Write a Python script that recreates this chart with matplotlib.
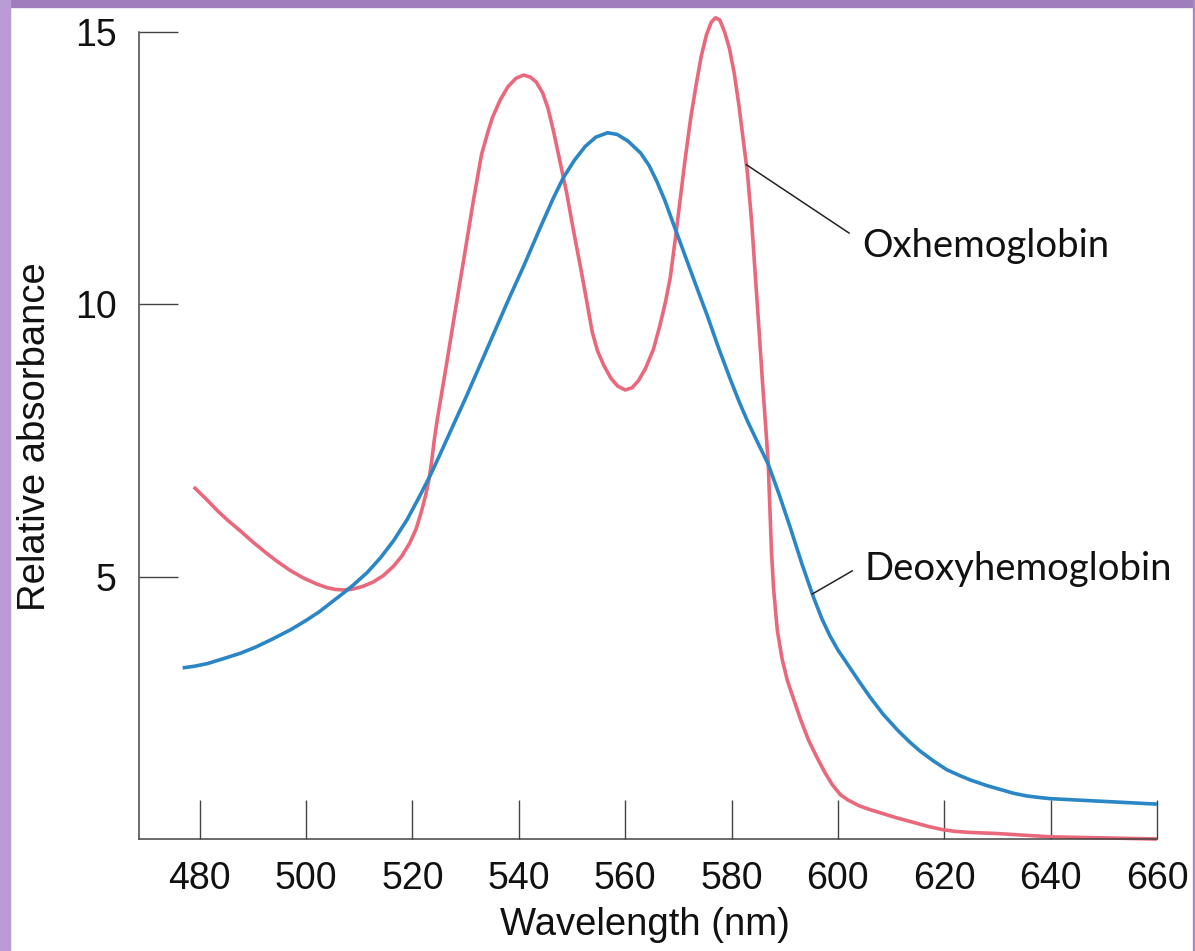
import numpy as np
import matplotlib
matplotlib.use("Agg")
import matplotlib.pyplot as plt
from matplotlib.patches import Rectangle

# absorption spectra of haemoglobin, relative units
oxy_nm = [478.9, 481, 483.5, 485.5, 487.7, 490, 492.5, 494.5, 497, 499.5,
          502, 504, 505.5, 507, 508.5, 510.5, 512.5, 514.5, 516.5, 518, 519.5,
          520.7, 521.7, 522.5, 523.1, 523.6, 524.1, 524.7, 525.3, 526.5, 528,
          529.7, 531.5, 533, 534.3, 535.1, 536.5, 538, 539.5, 540.9, 542.2,
          543.3, 544.5, 545.5, 546.6, 547.8, 549, 550.3, 551.6, 552.8, 553.8,
          554.8, 556, 557.3, 558.6, 560, 561.3, 562.5, 563.8, 565.3, 566.5,
          567.6, 568.5, 569.3, 570.2, 571.2, 572.3, 573.3, 574.3, 575.3, 576.2,
          577, 577.8, 578.7, 579.6, 580.5, 581.4, 582.3, 583, 583.8, 584.5,
          585.2, 585.8, 586.4, 586.9, 587.2, 587.5, 587.9, 588.6, 589.5, 590.5,
          591.6, 593, 594.5, 596, 597.5, 599, 600.5, 602, 604, 606, 608, 611,
          614, 617, 619.8, 622, 625, 630, 635, 640, 645, 650, 655, 660]
oxy_abs = [6.65, 6.45, 6.2, 6.02, 5.84, 5.64, 5.44, 5.29, 5.12, 4.98, 4.87,
           4.8, 4.77, 4.76, 4.77, 4.82, 4.9, 5.02, 5.2, 5.38, 5.62, 5.88, 6.2,
           6.5, 6.78, 7.1, 7.5, 7.9, 8.25, 8.95, 9.85, 10.85, 11.92, 12.75,
           13.2, 13.44, 13.75, 14.0, 14.15, 14.21, 14.17, 14.08, 13.88, 13.6,
           13.15, 12.6, 12.05, 11.35, 10.69, 10.05, 9.5, 9.15, 8.88, 8.65, 8.5,
           8.43, 8.47, 8.6, 8.82, 9.17, 9.6, 10.05, 10.5, 11.1, 11.8, 12.6,
           13.4, 14.0, 14.55, 14.95, 15.18, 15.26, 15.22, 15.0, 14.7, 14.25,
           13.65, 12.95, 12.41, 11.5, 10.5, 9.5, 8.61, 7.8, 7.09, 6.3, 5.5,
           4.8, 4.03, 3.5, 3.1, 2.78, 2.38, 2.0, 1.7, 1.42, 1.18, 1.0, 0.9,
           0.8, 0.73, 0.67, 0.58, 0.5, 0.42, 0.36, 0.33, 0.31, 0.29, 0.26,
           0.23, 0.22, 0.21, 0.2, 0.19]

deoxy_nm = [476.8, 479, 481.5, 484.5, 487.7, 490.5, 493.5, 497.1, 500, 502.5,
            504.6, 507, 509, 511.5, 514, 516.5, 519, 521.2, 523.4, 525.3,
            527.2, 530, 533, 537.9, 541, 544, 546.5, 548.4, 550.5, 552.5,
            554.5, 556.7, 558.5, 560.5, 562.9, 564.5, 566, 567.5, 569.1, 570.5,
            572, 573.7, 575.5, 577.5, 579.8, 581.5, 583, 585, 586.9, 589, 591,
            593.2, 595.4, 597, 598.5, 600, 601.8, 604, 606, 608.5, 611.2,
            613.5, 615.5, 618, 620.5, 623, 625, 628, 630.5, 633, 635.5, 638,
            640, 650, 660]
deoxy_abs = [3.33, 3.36, 3.41, 3.5, 3.6, 3.71, 3.85, 4.03, 4.2, 4.36, 4.52,
             4.7, 4.86, 5.08, 5.35, 5.67, 6.05, 6.45, 6.87, 7.27, 7.68, 8.28,
             8.95, 10.05, 10.72, 11.4, 11.95, 12.33, 12.65, 12.9, 13.07, 13.15,
             13.12, 13.0, 12.78, 12.55, 12.25, 11.9, 11.47, 11.1, 10.7, 10.25,
             9.78, 9.22, 8.62, 8.2, 7.86, 7.45, 7.07, 6.5, 5.92, 5.25, 4.63,
             4.23, 3.92, 3.66, 3.4, 3.08, 2.8, 2.48, 2.19, 1.97, 1.8, 1.62,
             1.46, 1.35, 1.27, 1.17, 1.1, 1.03, 0.98, 0.95, 0.93, 0.88, 0.83]

x_ticks = [480, 500, 520, 540, 560, 580, 600, 620, 640, 660]
y_ticks = [5, 10, 15]

red = "#e9687b"
blue = "#2b86c6"
axis_col = "#444444"

W, H = 1195, 951
fig = plt.figure(figsize=(W / 100, H / 100), dpi=100)
ax = fig.add_axes([139 / W, 112 / H, 1018 / W, 823.4 / H])

line_kw = dict(lw=2.6, solid_capstyle="butt", solid_joinstyle="round", clip_on=False)
ax.plot(oxy_nm, oxy_abs, color=red, **line_kw)
ax.plot(deoxy_nm, deoxy_abs, color=blue, **line_kw)

ax.set_xlim(468.6, 660)
ax.set_ylim(0.19, 15.3)
for side in ("top", "right"):
    ax.spines[side].set_visible(False)
ax.spines["left"].set_bounds(0.19, 15)
for side in ("left", "bottom"):
    ax.spines[side].set_color(axis_col)
    ax.spines[side].set_linewidth(1.1)

ax.set_xticks(x_ticks)
ax.set_yticks(y_ticks)
ax.tick_params(direction="in", length=28, width=1.0, color=axis_col,
               labelsize=27, pad=16, labelcolor="#111111")
for lab in ax.get_xticklabels() + ax.get_yticklabels():
    lab.set_family("Liberation Sans")

fig.text(645 / W, 16 / H, "Wavelength (nm)", ha="center", va="baseline",
         fontsize=27.5, family="Liberation Sans", color="#111111")
fig.text(35 / W, (H - 436.5) / H, "Relative absorbance", rotation=90,
         ha="center", va="center", fontsize=27.5, family="Liberation Sans",
         color="#111111")

# leader lines from the curves to their names
ox_x = 582.8
ax.plot([ox_x, 602.1], [np.interp(ox_x, oxy_nm, oxy_abs), 11.31],
        color="#222222", lw=1.1)
ax.text(604.6, 10.87, "Oxhemoglobin", family="Lato", fontsize=27.5,
        ha="left", va="baseline", color="#111111")

de_x = 595.2
ax.plot([de_x, 602.7], [np.interp(de_x, deoxy_nm, deoxy_abs), 5.11],
        color="#222222", lw=1.1)
ax.text(605.0, 4.94, "Deoxyhemoglobin", family="Lato", fontsize=27.5,
        ha="left", va="baseline", color="#111111")

# purple frame along the top and sides
fig.patches.append(Rectangle((0, (H - 7) / H), 1, 7 / H, transform=fig.transFigure,
                             color="#a07dbd", zorder=10))
fig.patches.append(Rectangle((0, 0), 10 / W, 1, transform=fig.transFigure,
                             color="#b99bd6", zorder=10))
fig.patches.append(Rectangle((1 - 2.5 / W, 0), 2.5 / W, 1, transform=fig.transFigure,
                             color="#a98bc4", zorder=10))

fig.savefig("out.png", dpi=100)
